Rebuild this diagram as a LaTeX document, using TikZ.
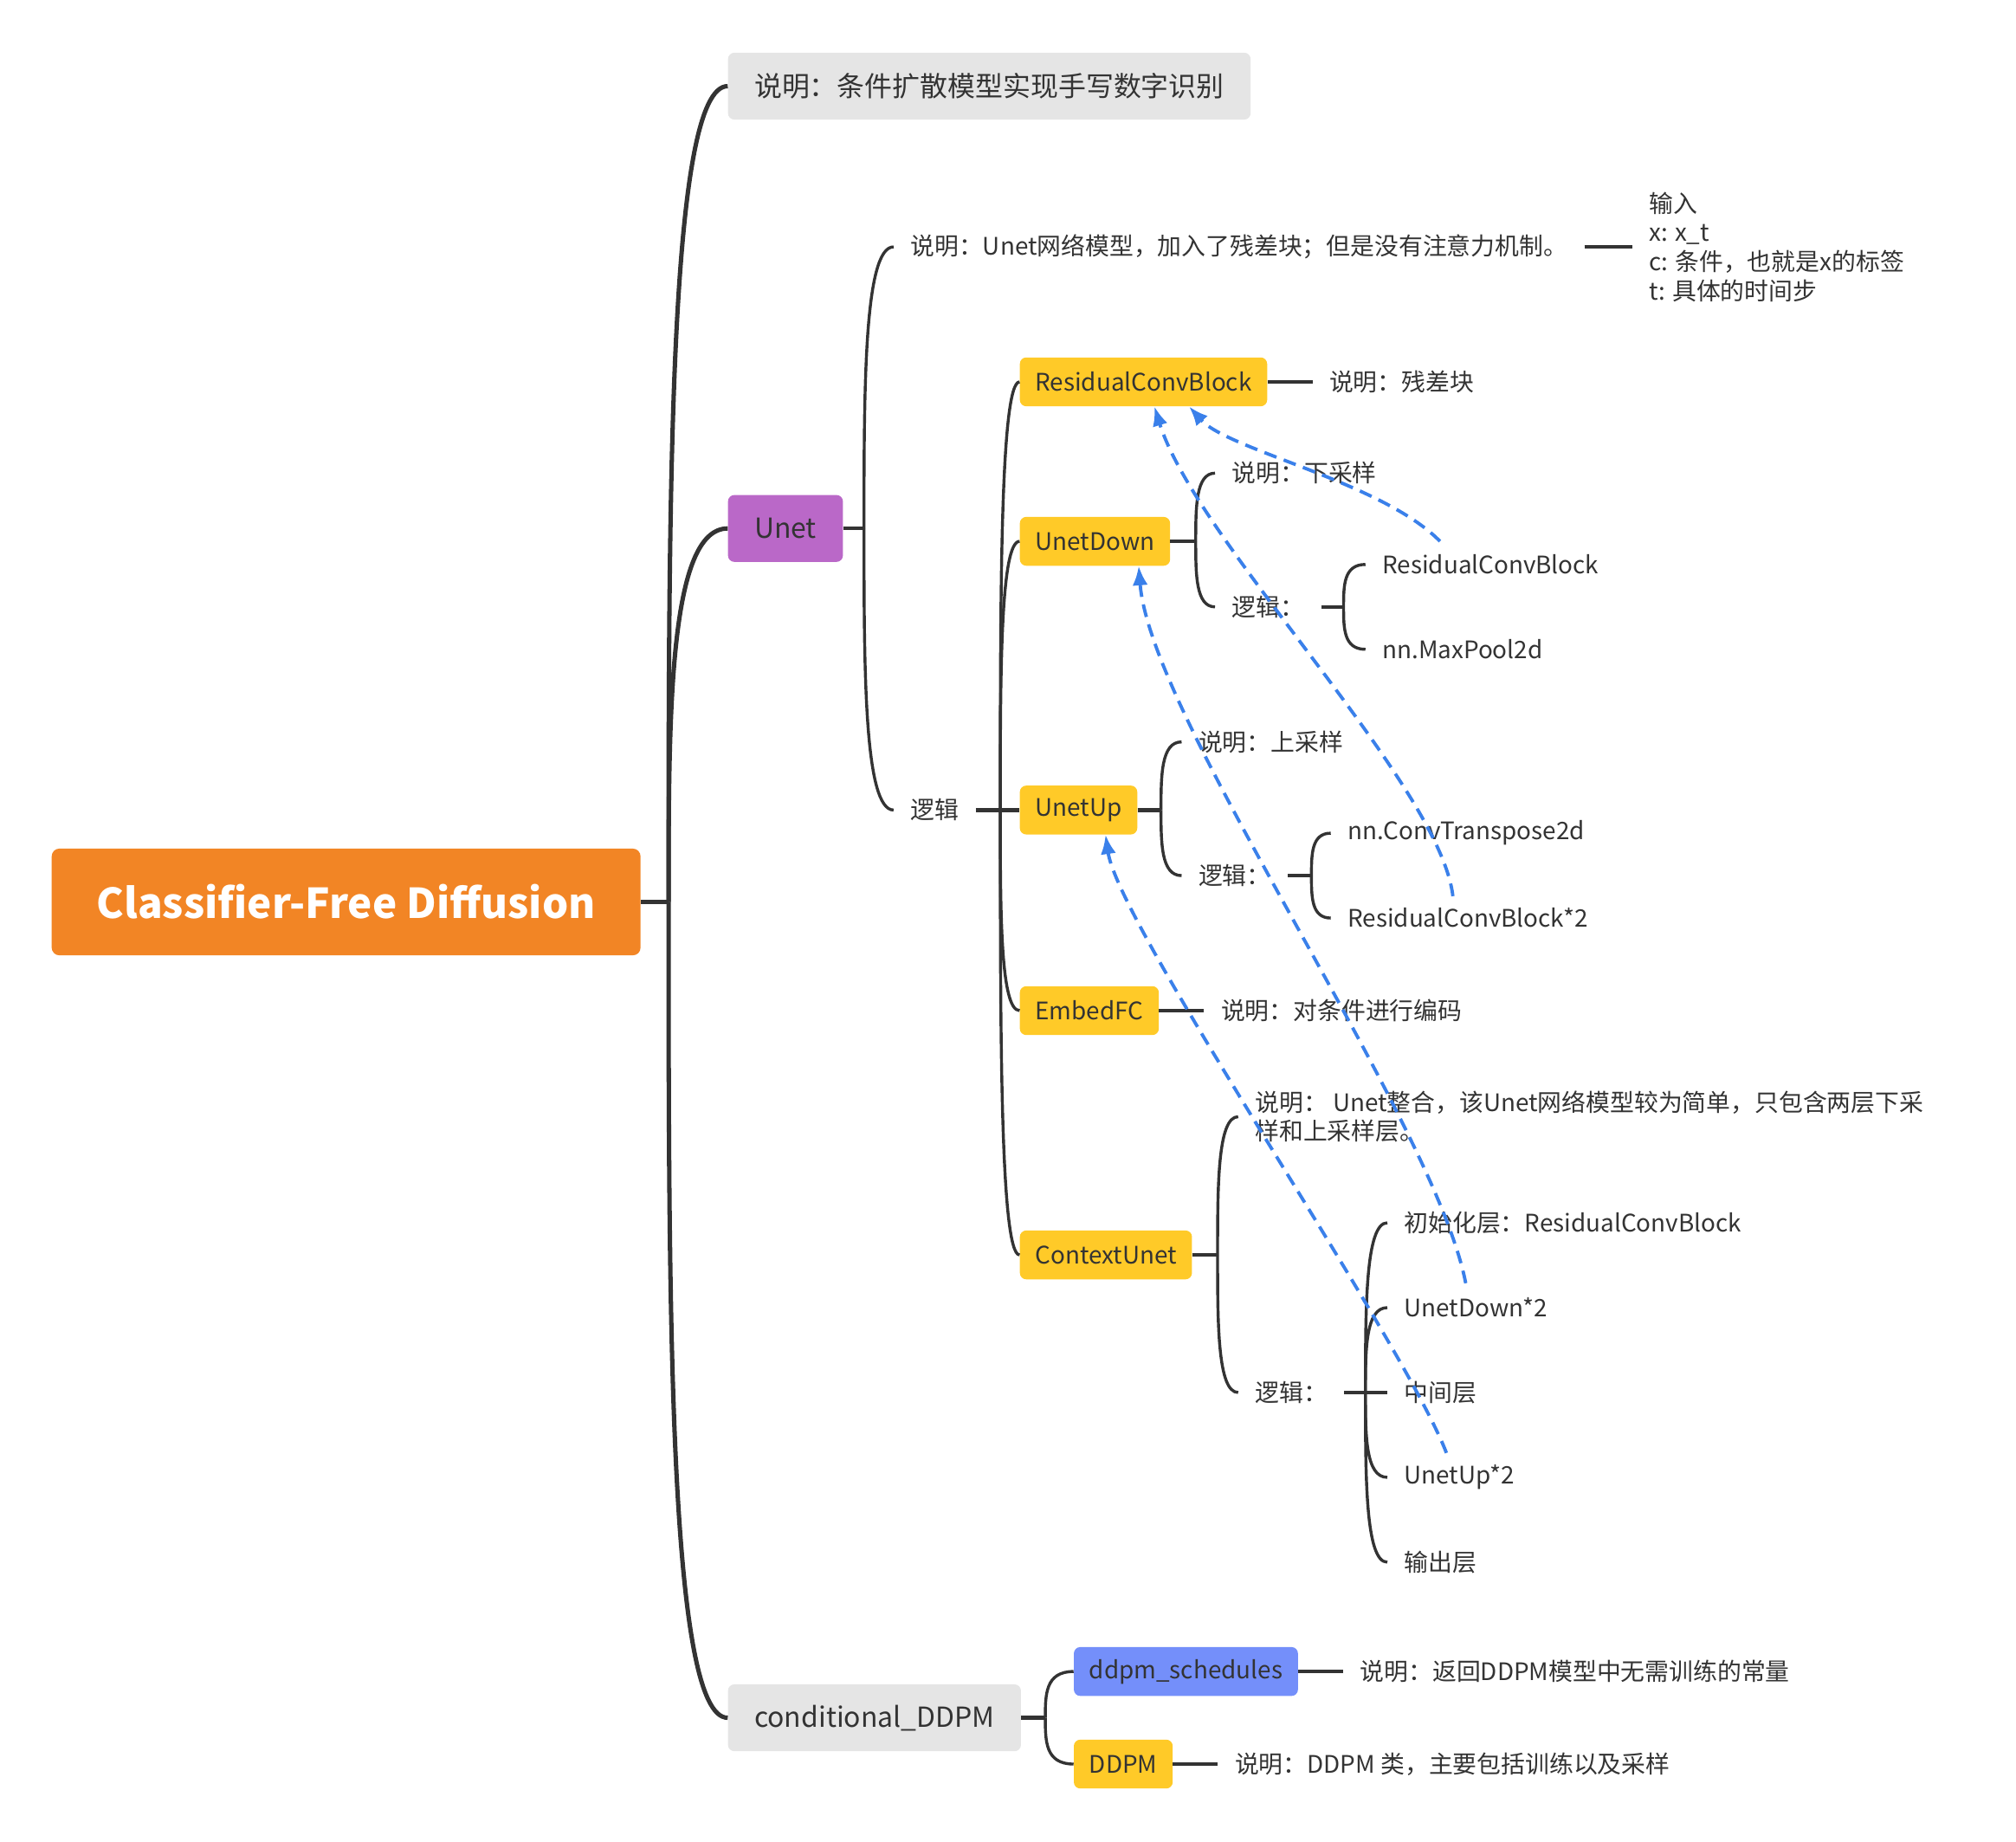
\documentclass[tikz,border=0pt]{standalone}
\usepackage{fontspec}
\setmainfont{Noto Sans CJK SC}
\usetikzlibrary{arrows.meta,positioning,calc}
\definecolor{cforange}{RGB}{242,133,37}
\definecolor{unetpurple}{RGB}{186,104,200}
\definecolor{notegray}{RGB}{229,229,229}
\definecolor{blockyellow}{RGB}{255,202,40}
\definecolor{schedblue}{RGB}{116,143,250}
\definecolor{inkgray}{RGB}{51,51,51}
\definecolor{hintblue}{RGB}{58,128,234}

\tikzset{
  twig/.style={to path={.. controls ($(\tikztostart)!0.5!(\tikztostart|-\tikztotarget)$) and (\tikztostart|-\tikztotarget) .. (\tikztotarget)}},
  trunk/.style={draw=inkgray, line width=3.4pt},
  stub/.style={draw=inkgray, line width=3pt},
  limb/.style={draw=inkgray, line width=2.3pt},
  hint/.style={draw=hintblue, line width=2.6pt, dash pattern=on 10pt off 6pt, -{Latex[length=15pt,width=12pt]}},
}

\begin{document}
\begin{tikzpicture}[x=1pt, y=-1pt,
  rootbox/.style={rounded corners=6pt, fill=cforange, text=white, anchor=west,
    font=\fontsize{32}{38}\selectfont\bfseries, minimum width=458pt, minimum height=83pt},
  topic/.style={rounded corners=5pt, fill=notegray, text=inkgray, anchor=west,
    font=\fontsize{21.5}{26}\selectfont, inner xsep=20.5pt, minimum height=52pt},
  block/.style={rounded corners=5pt, fill=blockyellow, text=inkgray, anchor=west,
    font=\fontsize{18.75}{22.7}\selectfont, inner xsep=12pt, minimum height=38pt},
  leaf/.style={text=inkgray, anchor=west, align=left,
    font=\fontsize{18.75}{22.7}\selectfont, inner xsep=13pt, inner ysep=2pt}]
\useasboundingbox (0,0) rectangle (1568,1432);

% Root
\node[rootbox] (root) at (40,701.5) {Classifier-Free Diffusion};
\coordinate (rootj) at (520,701.5);
\draw[trunk] (root.east) -- (rootj);

% First level
\node[topic] (intro) at (566,67) {说明：条件扩散模型实现手写数字识别};
\node[topic, fill=unetpurple] (unet) at (566,411) {Unet};
\node[topic] (cddpm) at (566,1336) {conditional\_DDPM};
\draw[trunk] (rootj) to[twig] (intro.west);
\draw[trunk] (rootj) to[twig] (unet.west);
\draw[trunk] (rootj) to[twig] (cddpm.west);

% Unet
\coordinate (unetj) at (672,411);
\draw[stub] (unet.east) -- (unetj);
\node[leaf] (unetdesc) at (695,192) {说明：Unet网络模型，加入了残差块；但是没有注意力机制。};
\node[leaf] (unetlogic) at (695,630) {逻辑};
\draw[limb] (unetj) to[twig] (unetdesc.west);
\draw[limb] (unetj) to[twig] (unetlogic.west);
\node[leaf, right=37pt of unetdesc] (inputs)
  {输入\\x: x\_t\\c: 条件，也就是x的标签\\t: 具体的时间步};
\draw[stub] (unetdesc.east) -- (inputs.west);

% Unet logic blocks
\coordinate (logicj) at (778,630);
\node[block] (rcb) at (793,297) {ResidualConvBlock};
\node[block] (ud) at (793,421) {UnetDown};
\node[block] (uup) at (793,630) {UnetUp};
\node[block] (efc) at (793,786) {EmbedFC};
\node[block] (cu) at (793,976) {ContextUnet};
\draw[stub] (unetlogic.east) -- (uup.west);
\draw[limb] (logicj) to[twig] (rcb.west);
\draw[limb] (logicj) to[twig] (ud.west);
\draw[limb] (logicj) to[twig] (efc.west);
\draw[limb] (logicj) to[twig] (cu.west);

% ResidualConvBlock
\node[leaf, right=35pt of rcb] (rcbdesc) {说明：残差块};
\draw[stub] (rcb.east) -- (rcbdesc.west);

% UnetDown
\coordinate (udj) at (930,421);
\draw[stub] (ud.east) -- (udj);
\node[leaf] (uddesc) at (945,368) {说明：下采样};
\node[leaf] (udlogic) at (945,472) {逻辑：};
\draw[limb] (udj) to[twig] (uddesc.west);
\draw[limb] (udj) to[twig] (udlogic.west);
\coordinate (udlj) at (1045,472);
\draw[stub] (udlogic.east) -- (udlj);
\node[leaf] (udres) at (1062,439) {ResidualConvBlock};
\node[leaf] (udpool) at (1062,505) {nn.MaxPool2d};
\draw[limb] (udlj) to[twig] (udres.west);
\draw[limb] (udlj) to[twig] (udpool.west);

% UnetUp
\coordinate (uupj) at (903,630);
\draw[stub] (uup.east) -- (uupj);
\node[leaf] (uupdesc) at (919,577) {说明：上采样};
\node[leaf] (uuplogic) at (919,681) {逻辑：};
\draw[limb] (uupj) to[twig] (uupdesc.west);
\draw[limb] (uupj) to[twig] (uuplogic.west);
\coordinate (uuplj) at (1020,681);
\draw[stub] (uuplogic.east) -- (uuplj);
\node[leaf] (uupconv) at (1035,648) {nn.ConvTranspose2d};
\node[leaf] (uupres) at (1035,714) {ResidualConvBlock*2};
\draw[limb] (uuplj) to[twig] (uupconv.west);
\draw[limb] (uuplj) to[twig] (uupres.west);

% EmbedFC
\node[leaf, right=35pt of efc] (efcdesc) {说明：对条件进行编码};
\draw[stub] (efc.east) -- (efcdesc.west);

% ContextUnet
\coordinate (cuj) at (947,976);
\draw[stub] (cu.east) -- (cuj);
\node[leaf] (cudesc) at (963,868.5)
  {说明： Unet整合，该Unet网络模型较为简单，只包含两层下采\\样和上采样层。};
\node[leaf] (culogic) at (963,1083) {逻辑：};
\draw[limb] (cuj) to[twig] (cudesc.west);
\draw[limb] (cuj) to[twig] (culogic.west);
\coordinate (culj) at (1062,1083);
\draw[stub] (culogic.east) -- (culj);
\node[leaf] (cuinit) at (1079,951) {初始化层：ResidualConvBlock};
\node[leaf] (cudown) at (1079,1017) {UnetDown*2};
\node[leaf] (cumid) at (1079,1083) {中间层};
\node[leaf] (cuup) at (1079,1149) {UnetUp*2};
\node[leaf] (cuout) at (1079,1215) {输出层};
\draw[limb] (culj) to[twig] (cuinit.west);
\draw[limb] (culj) to[twig] (cudown.west);
\draw[limb] (culj) -- (cumid.west);
\draw[limb] (culj) to[twig] (cuup.west);
\draw[limb] (culj) to[twig] (cuout.west);

% conditional_DDPM
\coordinate (cj) at (813,1336);
\draw[stub] (cddpm.east) -- (cj);
\node[block, fill=schedblue] (ds) at (835,1300) {ddpm\_schedules};
\node[block] (dd) at (835,1372) {DDPM};
\draw[limb] (cj) to[twig] (ds.west);
\draw[limb] (cj) to[twig] (dd.west);
\node[leaf, right=35pt of ds] (dsdesc) {说明：返回DDPM模型中无需训练的常量};
\node[leaf, right=35pt of dd] (dddesc) {说明：DDPM 类，主要包括训练以及采样};
\draw[stub] (ds.east) -- (dsdesc.west);
\draw[stub] (dd.east) -- (dddesc.west);

% Dashed links back to the blocks
\coordinate (hinta) at (1120,421);
\coordinate (hintb) at (1130,697);
\coordinate (hintc) at (1140,998);
\coordinate (hintd) at (1125,1130);
\draw[hint] (hinta) .. controls (1075,375) and (955,350) .. ([xshift=35.5pt]rcb.south);
\draw[hint] (hintb) .. controls (1120,610) and (930,420) .. ([xshift=8.5pt]rcb.south);
\draw[hint] (hintc) .. controls (1115,870) and (895,560) .. ([xshift=34pt]ud.south);
\draw[hint] (hintd) .. controls (1090,1040) and (870,720) .. ([xshift=21pt]uup.south);
\end{tikzpicture}
\end{document}
